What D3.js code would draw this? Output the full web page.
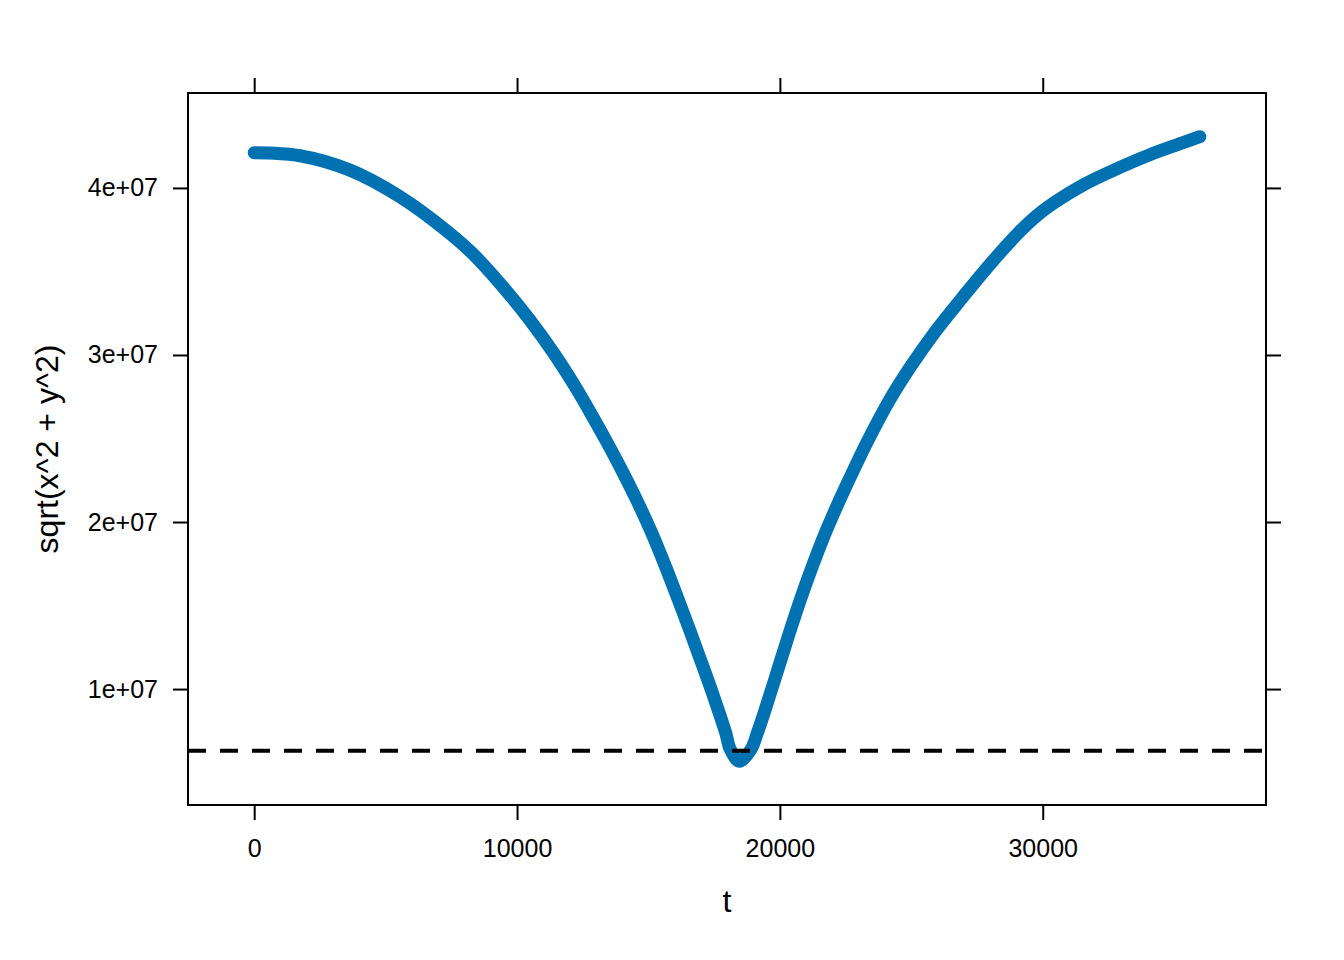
<!DOCTYPE html>
<html>
<head>
<meta charset="utf-8">
<script src="https://cdn.jsdelivr.net/npm/d3@7"></script>
<style>
  html, body { margin: 0; padding: 0; background: #ffffff; }
  svg { display: block; }
  text { font-family: "Liberation Sans", Arial, sans-serif; fill: #000; }
</style>
</head>
<body>
<svg id="chart" width="1344" height="960"></svg>
<script>
// ---- data ----
const tValues = [0, 1742, 3644, 5546, 7448, 8304, 9483, 10472, 11385, 12202, 12868, 13363, 13907, 14542,
                 15124, 15645, 16132, 16607, 17071, 17520, 17939, 18117, 18460,
                 18897, 19144, 19563, 19962, 20362, 20780, 21236, 21731, 22282, 22872, 23500, 24184,
                 24983, 25877, 26885, 27931, 29053, 29738, 30422, 31537, 32807, 34074, 35340, 35976];
const rValues = [4.2108e7, 4.1928e7, 4.1066e7, 3.9473e7, 3.7276e7, 3.6078e7, 3.4042e7, 3.2126e7, 3.0132e7, 2.8132e7, 2.6335e7, 2.4940e7, 2.3341e7, 2.1347e7,
                 1.9353e7, 1.7353e7, 1.5359e7, 1.3365e7, 1.1365e7, 9.371e6, 7.377e6, 6.377e6, 5.677e6,
                 6.377e6, 7.377e6, 9.371e6, 1.1365e7, 1.3365e7, 1.5359e7, 1.7353e7, 1.9353e7, 2.1347e7, 2.3341e7, 2.5341e7, 2.7335e7,
                 2.9329e7, 3.1329e7, 3.3323e7, 3.5317e7, 3.7276e7, 3.8293e7, 3.9102e7, 4.0180e7, 4.1138e7, 4.1988e7, 4.2707e7, 4.3066e7];
const refLine = 6.3e6;
const xTicks = [0, 10000, 20000, 30000];
const xTickLabels = ["0", "10000", "20000", "30000"];
const yTicks = [1e7, 2e7, 3e7, 4e7];
const yTickLabels = ["1e+07", "2e+07", "3e+07", "4e+07"];
const xTitle = "t";
const yTitle = "sqrt(x^2 + y^2)";

// ---- layout ----
const panel = { left: 188, right: 1266, top: 93, bottom: 805 };
const svg = d3.select("#chart");

function padded(ext) {
  const s = ext[1] - ext[0];
  return [ext[0] - 0.07 * s, ext[1] + 0.07 * s];
}
const x = d3.scaleLinear().domain(padded(d3.extent(tValues))).range([panel.left, panel.right]);
const y = d3.scaleLinear().domain(padded(d3.extent(rValues))).range([panel.bottom, panel.top]);

const data = tValues.map((t, i) => ({ t, r: rValues[i] }));

svg.append("defs").append("clipPath").attr("id", "clip")
  .append("rect").attr("x", panel.left).attr("y", panel.top)
  .attr("width", panel.right - panel.left).attr("height", panel.bottom - panel.top);

const g = svg.append("g").attr("clip-path", "url(#clip)");

g.append("path")
  .datum(data)
  .attr("fill", "none")
  .attr("stroke", "#0072B2")
  .attr("stroke-width", 13)
  .attr("stroke-linecap", "round")
  .attr("stroke-linejoin", "round")
  .attr("d", d3.line().x(d => x(d.t)).y(d => y(d.r)).curve(d3.curveCatmullRom.alpha(0.5)));

g.append("line")
  .attr("x1", panel.left).attr("x2", panel.right)
  .attr("y1", y(refLine)).attr("y2", y(refLine))
  .attr("stroke", "#000").attr("stroke-width", 4)
  .attr("stroke-dasharray", "18 14");

svg.append("rect")
  .attr("x", panel.left).attr("y", panel.top)
  .attr("width", panel.right - panel.left).attr("height", panel.bottom - panel.top)
  .attr("fill", "none").attr("stroke", "#000").attr("stroke-width", 2);

const tickLen = 15;
const fmtX = (d, i) => xTickLabels[i];
const fmtY = (d, i) => yTickLabels[i];

function styleAxis(sel) {
  sel.select(".domain").remove();
  sel.selectAll(".tick line").attr("stroke", "#000").attr("stroke-width", 2);
  sel.selectAll(".tick text").style("font-size", "25px").style("font-family", "'Liberation Sans', Arial, sans-serif").attr("fill", "#000");
}

svg.append("g").attr("transform", `translate(0,${panel.bottom})`)
  .call(d3.axisBottom(x).tickValues(xTicks).tickFormat(fmtX).tickSize(tickLen).tickPadding(19))
  .call(styleAxis);
svg.append("g").attr("transform", `translate(0,${panel.top})`)
  .call(d3.axisTop(x).tickValues(xTicks).tickFormat("").tickSize(tickLen))
  .call(styleAxis);
svg.append("g").attr("transform", `translate(${panel.left},0)`)
  .call(d3.axisLeft(y).tickValues(yTicks).tickFormat(fmtY).tickSize(tickLen).tickPadding(15))
  .call(styleAxis);
svg.append("g").attr("transform", `translate(${panel.right},0)`)
  .call(d3.axisRight(y).tickValues(yTicks).tickFormat("").tickSize(tickLen))
  .call(styleAxis);

svg.append("text")
  .attr("x", (panel.left + panel.right) / 2).attr("y", 912)
  .attr("text-anchor", "middle")
  .style("font-size", "32px")
  .text(xTitle);

svg.append("text")
  .attr("transform", `translate(58,${(panel.top + panel.bottom) / 2}) rotate(-90)`)
  .attr("text-anchor", "middle")
  .style("font-size", "32px")
  .text(yTitle);
</script>
</body>
</html>
